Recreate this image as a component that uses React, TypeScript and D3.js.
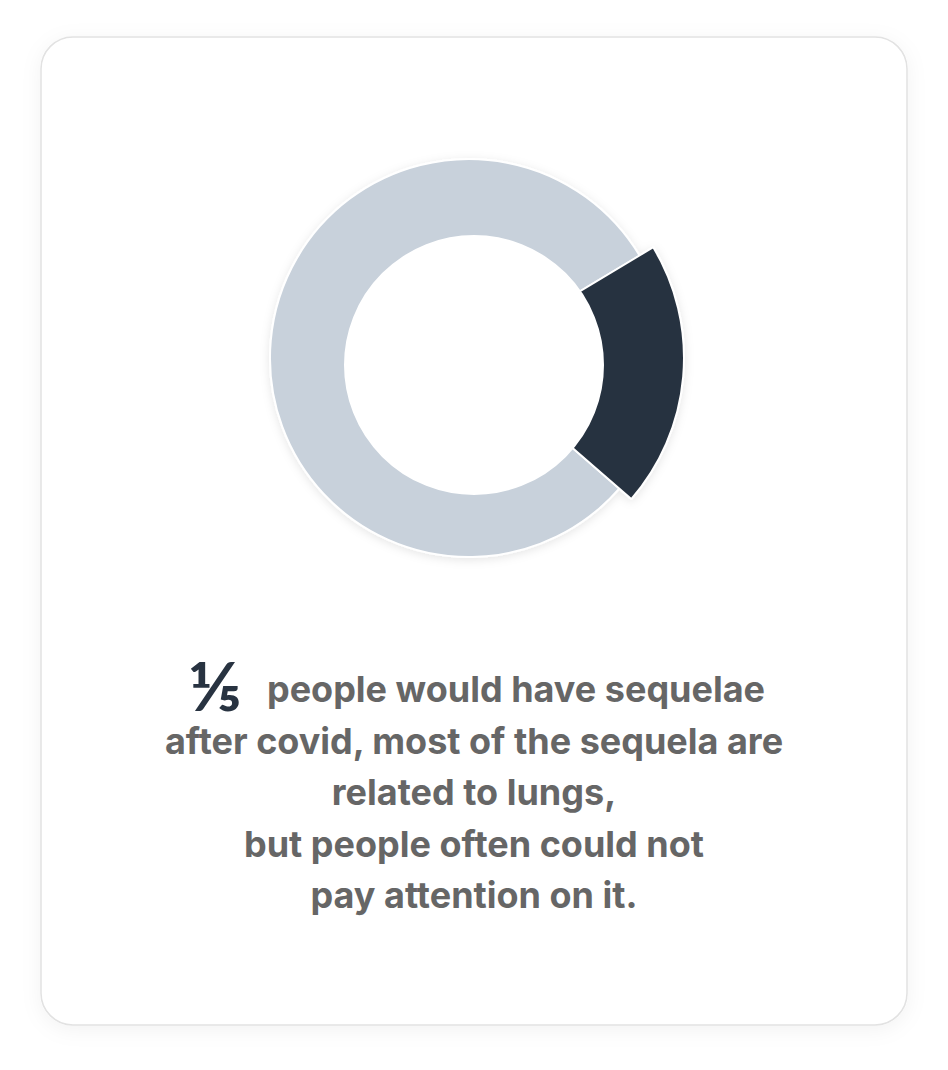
import React from "react"
import * as d3 from "d3"

// share of people with sequelae after covid (1 in 5)
const SLICE_LABELS = ["with sequelae", "without sequelae"]
const SLICE_VALUES = [1, 4]
const FRACTION = "⅕"
const CAPTION_LINES = [
  "people would have sequelae",
  "after covid, most of the sequela are",
  "related to lungs,",
  "but people often could not",
  "pay attention on it.",
]

const W = 948
const H = 1070
const CARD = { x: 41, y: 37, w: 866, h: 988, r: 32 }
const CENTER = { x: 469, y: 358 }
const HOLE = { dx: 5, dy: 7, r: 129 }
const COLORS = ["#283341", "#c8d1db"]
const START_DEG = 59
const FIRST_LINE_SHIFT = 42 // first line is pushed right by the fraction
const FRACTION_W = 54

export default function App() {
  const pie = d3
    .pie<number>()
    .sort(null)
    .value((d) => d)
    .startAngle((START_DEG * Math.PI) / 180)
    .endAngle((START_DEG * Math.PI) / 180 + Math.PI * 2)

  const arcs = pie(SLICE_VALUES)
  // highlighted slice is drawn a bit larger, like a hovered segment
  const arcBig = d3.arc<d3.PieArcDatum<number>>().innerRadius(0).outerRadius(215)
  const arcBase = d3.arc<d3.PieArcDatum<number>>().innerRadius(0).outerRadius(199)

  const lineY = d3.scaleLinear().domain([0, CAPTION_LINES.length - 1]).range([702, 908])
  const cx = CARD.x + CARD.w / 2
  const firstLineX = cx + FIRST_LINE_SHIFT
  const firstLineStart = 268

  return (
    <svg
      width={W}
      height={H}
      style={{ position: "absolute", left: 0, top: 0, display: "block", background: "#ffffff" }}
    >
      <defs>
        <filter id="cardShadow" x="-10%" y="-10%" width="120%" height="120%">
          <feDropShadow dx="0" dy="4" stdDeviation="10" floodColor="#000" floodOpacity="0.05" />
        </filter>
        <filter id="pieShadow" x="-20%" y="-20%" width="140%" height="140%">
          <feDropShadow dx="0" dy="2" stdDeviation="5" floodColor="#000" floodOpacity="0.1" />
        </filter>
      </defs>

      <rect
        x={CARD.x}
        y={CARD.y}
        width={CARD.w}
        height={CARD.h}
        rx={CARD.r}
        fill="#ffffff"
        stroke="#e2e2e2"
        strokeWidth={1.5}
        filter="url(#cardShadow)"
      />

      <g transform={`translate(${CENTER.x},${CENTER.y})`} filter="url(#pieShadow)">
        {arcs
          .map((a, i) => ({ a, i }))
          .reverse()
          .map(({ a, i }) => (
            <path
              key={SLICE_LABELS[i]}
              d={(i === 0 ? arcBig(a) : arcBase(a)) ?? ""}
              fill={COLORS[i]}
              stroke="#ffffff"
              strokeWidth={2}
              strokeLinejoin="round"
            />
          ))}
        <circle cx={HOLE.dx} cy={HOLE.dy} r={HOLE.r} fill="#ffffff" stroke="#ffffff" strokeWidth={2} />
      </g>

      <text
        x={firstLineStart - 26}
        y={711}
        textAnchor="end"
        fontFamily="Lato, 'DejaVu Sans', sans-serif"
        fontWeight={700}
        fontSize={66}
        fill="#283341"
        textLength={FRACTION_W}
        lengthAdjust="spacingAndGlyphs"
      >
        {FRACTION}
      </text>

      <g fontFamily="Inter, 'Noto Sans', sans-serif" fontWeight={700} fill="#666666" textAnchor="middle">
        {CAPTION_LINES.map((line, i) => (
          <text key={i} x={i === 0 ? firstLineX : cx} y={lineY(i)} fontSize={36}>
            {line}
          </text>
        ))}
      </g>
    </svg>
  )
}
